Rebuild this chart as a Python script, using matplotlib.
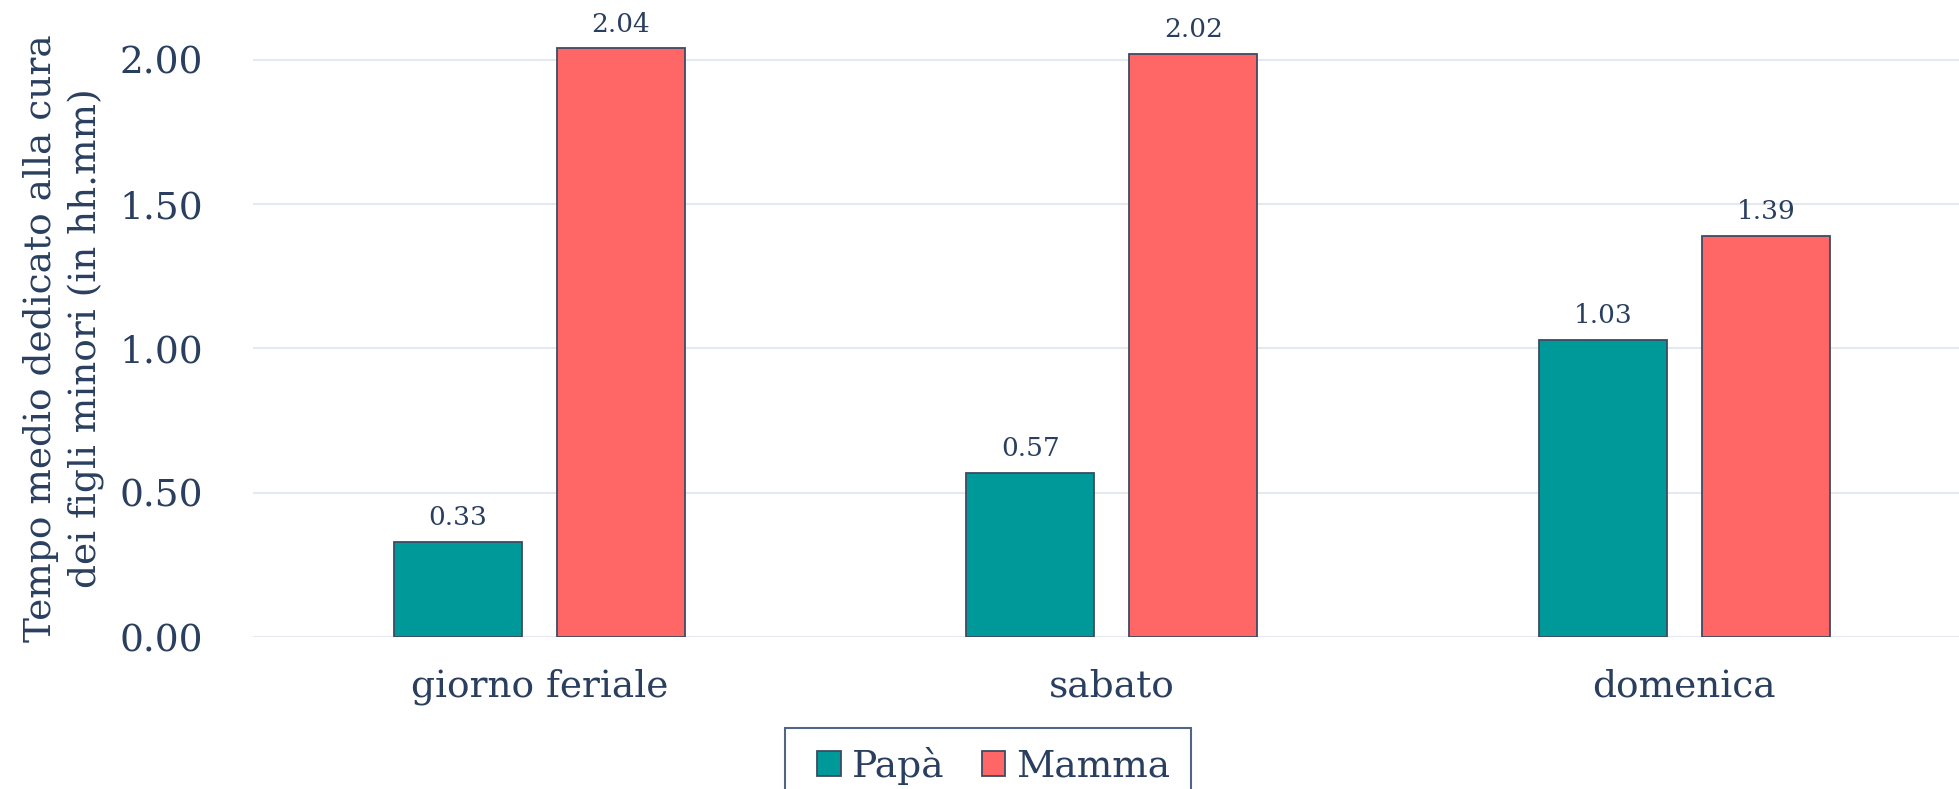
import matplotlib
matplotlib.use("Agg")
import matplotlib.pyplot as plt
import numpy as np
from matplotlib.patches import Patch, Rectangle

categories = ["giorno feriale", "sabato", "domenica"]
papa = [0.33, 0.57, 1.03]
mamma = [2.04, 2.02, 1.39]
series_names = ["Papà", "Mamma"]
yticks = [0.0, 0.5, 1.0, 1.5, 2.0]
ylabel = "Tempo medio dedicato alla cura\ndei figli minori (in hh.mm)"

TEXT = "#2a3f5f"
EDGE = "#3d4b63"
C_PAPA = "#009999"
C_MAMMA = "#ff6666"
GRID = "#e5e8ee"
FS = 27

plt.rcParams["font.family"] = ["DejaVu Serif"]

fig = plt.figure(figsize=(19.59, 7.89), dpi=100)
ax = fig.add_axes([253 / 1959, 152 / 789, 1706 / 1959, 634.7 / 789])

x = np.arange(len(categories))
w = 0.224
off = 0.1425
b1 = ax.bar(x - off, papa, w, color=C_PAPA, edgecolor=EDGE, linewidth=1.3, zorder=3)
b2 = ax.bar(x + off, mamma, w, color=C_MAMMA, edgecolor=EDGE, linewidth=1.3, zorder=3)

for bars, vals in ((b1, papa), (b2, mamma)):
    for rect, v in zip(bars, vals):
        ax.annotate(f"{v:.2f}", (rect.get_x() + rect.get_width() / 2, v),
                    xytext=(0, 8.5), textcoords="offset points",
                    ha="center", va="bottom", fontsize=19, color=TEXT)

ax.set_xlim(-0.5, 2.48)
ax.set_ylim(0, 2.2)
ax.set_yticks(yticks)
ax.set_yticklabels([f"{t:.2f}" for t in yticks])
ax.set_xticks(x)
ax.set_xticklabels(categories)
ax.tick_params(axis="y", length=0, pad=36, labelsize=FS, labelcolor=TEXT)
ax.tick_params(axis="x", length=0, pad=23, labelsize=FS, labelcolor=TEXT)
ax.yaxis.grid(True, color=GRID, linewidth=1.5, zorder=0)
ax.set_axisbelow(True)
for s in ax.spines.values():
    s.set_visible(False)

fig.text(64 / 1959, (789 - 338) / 789, ylabel, rotation=90, ha="center", va="center",
         multialignment="center", fontsize=FS, color=TEXT, linespacing=1.35)

handles = [Patch(facecolor=C_PAPA, edgecolor=EDGE, linewidth=1.3),
           Patch(facecolor=C_MAMMA, edgecolor=EDGE, linewidth=1.3)]
leg = fig.legend(handles, series_names, loc="upper center",
                 bbox_to_anchor=(994 / 1959, (789 - 728) / 789),
                 bbox_transform=fig.transFigure, ncol=2, fontsize=FS,
                 frameon=False, borderaxespad=0,
                 handlelength=0.62, handleheight=0.62, handletextpad=0.3,
                 columnspacing=1.0, borderpad=0.5)
for t in leg.get_texts():
    t.set_color(TEXT)

fig.patches.append(Rectangle((785 / 1959, -0.05), 406 / 1959, 0.05 + (789 - 728) / 789,
                             transform=fig.transFigure, fill=False,
                             edgecolor="#506784", linewidth=1.5))

fig.savefig("out.png", dpi=100, facecolor="white")
